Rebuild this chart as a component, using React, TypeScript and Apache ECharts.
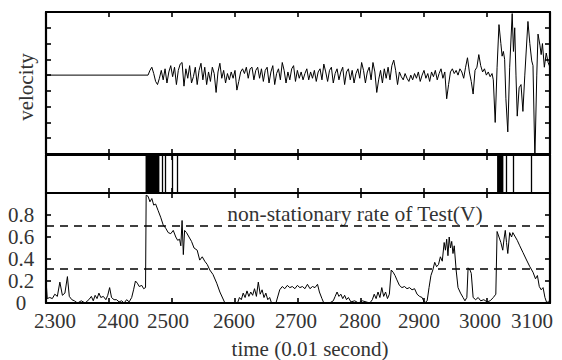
import React, { useEffect, useRef } from 'react';
import * as echarts from 'echarts';

// ---- data ----
const timeMin = 2300;
const timeMax = 3100;
const timeInterval = 100;

// velocity: quiet part, noisy part (regularly sampled), burst part
const velFlat: number[][] = [[2300, 0], [2462, 0]];
const velStart = 2462;
const velStep = 3;
const velValues: number[] = [
  0, 0.3, 0.5, 0.1, -0.4, -0.6, -0.2, 0.3, -0.3, 0.4, -0.5, 0.2, 0.6, -0.1, 0.5, -0.6, 0.3, 0.7, 0.8, -0.7,
  0.4, -0.2, 0.6, -0.5, -0.1, 0.5, -0.6, 0.3,
  0.75, -0.3, 0.5, -0.6, 0.2, -0.4, 0.5, 0.1, -1.1, 0.2, 0.75, -0.2, 0.3, -0.5, 0.1, -0.3, 0.2, -0.2, 0.3, -0.95,
  -0.4, 0.2,
  0.4, 0.1, 0.5, -0.2, 0.4, 0.5, -0.3, 0.3, 0.5, -0.2, 0.4, -0.4, 0.3, 0.5, -0.5, 0.2, 0.6, -0.6, 0.1, 0.4,
  -0.3, 0.8, 0.3, -0.5, 0.2, -0.3, 0.4, 0.6, -0.4, 0.3, -0.2, 0.2, -0.3, 0.1, 0.4, -0.3, 0.2,
  -0.2, 0.3, -0.4, 0.2, 0.4, -0.3, 0.7, 0.2, -0.4, 0.3, 0.5, -0.5, 0.1, 0.4, -0.3, 0.2, 0.5, -0.6, 0.2, 0.4,
  -0.3, 0.3, -0.5, 0.1, 0.4, -0.2, 0.8, 0.3, -0.5, 0.2, 0.5, -0.3, 0.8, 0.2, -1.1, -0.3,
  0.3, -0.5, 0.4, -0.2, 0.5, -0.3, 0.6, 0.95, 0.3, -0.6, 0.2, -0.1, -0.3, 0.1, -0.2, -0.4, 0.0, -0.3, 0.1, -0.2,
  0.2, -0.4, 0.0, 0.3, -0.2, 0.1, -0.4, 0.2, -0.1, 0.3, -0.3, 0.1, 0.4, -0.2, 0.2, -1.5,
  -0.6, 0.2, 0.4, 0.1, 0.3, 0.0, 0.4, 0.2, -0.2, 0.5, 1.1, 0.2, -0.4, -1.2, 0.3, 0.5, 1.3, 0.6, 0.2, 0.4,
  0.0, 0.2, -0.1, 0.1,
];
const velBurst: number[][] = [
  [3010, -0.3], [3013, -3.0], [3016, 0.5], [3019, 3.2], [3022, 2.0], [3024, 1.2], [3026, 1.5], [3028, 1.0],
  [3030, -1.5], [3033, -3.6], [3036, 0.5], [3040, 3.9], [3042, 1.5], [3044, 3.0], [3046, 0.0], [3048, -2.6],
  [3051, -0.8], [3054, -0.6], [3057, -2.3], [3060, 0.0], [3065, 3.4], [3068, 2.0], [3071, 0.9], [3073, 0.6],
  [3076, -5.3], [3079, 0.0], [3081, 2.6], [3084, 1.9], [3086, 1.3], [3088, 2.0], [3091, 0.5], [3094, 1.4],
  [3097, 0.8], [3100, 0.5],
];

// detected change events (middle strip)
const eventBlocks: number[][] = [[2458, 2480], [3016, 3026]];
const eventLines: number[] = [2485, 2489, 2500, 2508, 3031, 3042, 3071];

// non-stationary rate
const rateData: number[][] = [
  [2300, 0.21], [2302, 0.04], [2306, 0.05], [2310, 0.04], [2314, 0.08], [2318, 0.06], [2322, 0.19], [2326, 0.07],
  [2330, 0.09], [2334, 0.24], [2337, 0.06], [2341, 0.03], [2345, 0.02], [2350, 0.0], [2356, 0.02], [2362, 0.0],
  [2368, 0.03], [2372, 0.06], [2375, 0.02], [2378, 0.07], [2381, 0.04], [2384, 0.09], [2387, 0.05], [2391, 0.06],
  [2395, 0.03], [2398, 0.07], [2401, 0.14], [2404, 0.05], [2408, 0.03], [2412, 0.03], [2416, 0.01], [2420, 0.02],
  [2424, 0.0], [2428, 0.03], [2432, 0.01], [2436, 0.05], [2439, 0.12], [2442, 0.2], [2445, 0.18], [2448, 0.15],
  [2452, 0.16], [2455, 0.13], [2458, 0.14], [2459, 0.98], [2462, 0.97], [2465, 0.92], [2468, 0.95], [2471, 0.89],
  [2474, 0.9], [2478, 0.84], [2482, 0.78], [2486, 0.71], [2490, 0.68], [2494, 0.64], [2498, 0.63], [2502, 0.66],
  [2506, 0.6], [2509, 0.57], [2512, 0.58], [2514, 0.52], [2516, 0.75], [2518, 0.44], [2520, 0.66], [2523, 0.64],
  [2527, 0.6], [2531, 0.56], [2535, 0.5], [2540, 0.48], [2544, 0.39], [2548, 0.42], [2552, 0.38], [2556, 0.35],
  [2560, 0.3], [2565, 0.26], [2571, 0.18], [2576, 0.1], [2584, 0.0], [2604, 0.0], [2607, 0.05], [2610, 0.03],
  [2613, 0.09], [2616, 0.05], [2619, 0.11], [2622, 0.06], [2625, 0.1], [2628, 0.07], [2631, 0.13], [2634, 0.06],
  [2637, 0.19], [2640, 0.08], [2643, 0.12], [2646, 0.05], [2649, 0.09], [2652, 0.03], [2655, 0.05], [2658, 0.0],
  [2665, 0.0], [2671, 0.12], [2675, 0.15], [2679, 0.13], [2683, 0.16], [2687, 0.14], [2691, 0.15], [2695, 0.13],
  [2699, 0.16], [2703, 0.14], [2707, 0.15], [2711, 0.13], [2715, 0.17], [2719, 0.13], [2723, 0.15], [2727, 0.14],
  [2731, 0.17], [2734, 0.1], [2738, 0.04], [2741, 0.0], [2750, 0.0], [2756, 0.02], [2759, 0.06], [2762, 0.1],
  [2765, 0.06], [2768, 0.08], [2771, 0.04], [2774, 0.07], [2777, 0.03], [2780, 0.05], [2784, 0.01], [2790, 0.02],
  [2796, 0.0], [2802, 0.02], [2808, 0.01], [2814, 0.0], [2818, 0.03], [2821, 0.08], [2824, 0.04], [2827, 0.1],
  [2830, 0.05], [2833, 0.14], [2836, 0.06], [2839, 0.1], [2842, 0.04], [2845, 0.08], [2848, 0.3], [2851, 0.28],
  [2854, 0.25], [2857, 0.21], [2861, 0.16], [2865, 0.14], [2869, 0.15], [2873, 0.13], [2877, 0.14], [2881, 0.12],
  [2885, 0.13], [2889, 0.08], [2893, 0.06], [2897, 0.05], [2901, 0.0], [2905, 0.02], [2908, 0.14], [2911, 0.25],
  [2914, 0.3], [2917, 0.37], [2920, 0.33], [2923, 0.35], [2926, 0.42], [2929, 0.38], [2932, 0.55], [2934, 0.48],
  [2936, 0.58], [2938, 0.43], [2940, 0.6], [2942, 0.5], [2944, 0.56], [2946, 0.45], [2948, 0.52], [2951, 0.3],
  [2954, 0.14], [2958, 0.09], [2962, 0.05], [2965, 0.02], [2968, 0.05], [2970, 0.32], [2973, 0.3], [2975, 0.27],
  [2978, 0.05], [2982, 0.03], [2986, 0.05], [2990, 0.02], [2995, 0.03], [3000, 0.01], [3005, 0.02], [3010, 0.05],
  [3014, 0.08], [3016, 0.65], [3019, 0.6], [3022, 0.55], [3025, 0.48], [3027, 0.58], [3029, 0.66], [3031, 0.55],
  [3033, 0.45], [3036, 0.64], [3039, 0.6], [3041, 0.64], [3045, 0.6], [3048, 0.57], [3052, 0.52], [3057, 0.46],
  [3062, 0.4], [3068, 0.33], [3073, 0.28], [3077, 0.22], [3080, 0.25], [3083, 0.15], [3086, 0.12], [3089, 0.14],
  [3092, 0.05], [3095, 0.0], [3098, 0.02],
];
const thresholds: number[] = [0.7, 0.31];

const xTitle = 'time (0.01 second)';
const yTitleTop = 'velocity';
const rateTitle = 'non-stationary rate of Test(V)';

const FONT = "'Liberation Serif', 'DejaVu Serif', 'Times New Roman', serif";
const TXT = '#333';

// horizontal nudges of the time tick labels, as in the original figure (px, + = right)
const labelNudge: Record<number, number> = {
  2300: 9, 2400: 9, 2500: -4, 2600: -1, 2700: -2, 2800: -1, 2900: -5, 3000: -7, 3100: -18,
};

export default function App() {
  const ref = useRef<HTMLDivElement>(null);

  useEffect(() => {
    if (!ref.current) return;
    const chart = echarts.init(ref.current, undefined, { renderer: 'svg' });

    const velocity: number[][] = [
      ...velFlat,
      ...velValues.map((v, i) => [velStart + i * velStep, v]),
      ...velBurst,
    ];

    const axisLine = { show: true, onZero: false, lineStyle: { color: '#000', width: 2.2 } };
    const tick = { show: true, inside: true, length: 5, lineStyle: { color: '#000', width: 1.6 } };

    const labelFont = { fontFamily: FONT, fontSize: 21, color: TXT };
    const rich: Record<string, any> = {};
    Object.keys(labelNudge).forEach((k) => {
      const n = labelNudge[Number(k)];
      rich['t' + k] = {
        ...labelFont,
        padding: n >= 0 ? [0, 0, 0, 2 * n] : [0, -2 * n, 0, 0],
      };
    });

    const xAx = (gridIndex: number, position: string, showLabel: boolean) => ({
      type: 'value',
      gridIndex,
      position,
      min: timeMin,
      max: timeMax,
      interval: timeInterval,
      axisLine,
      axisTick: tick,
      splitLine: { show: false },
      axisLabel: showLabel
        ? {
            show: true,
            ...labelFont,
            margin: 7,
            formatter: (v: number) => `{t${Math.round(v)}|${Math.round(v)}}`,
            rich,
          }
        : { show: false },
    });

    const grids = [
      { left: 46, right: 12, top: 12, height: 142 },
      { left: 46, right: 12, top: 155, height: 38 },
      { left: 46, right: 12, top: 193, height: 110 },
    ];

    const option: any = {
      animation: false,
      backgroundColor: '#fff',
      grid: grids.map((g) => ({ ...g, containLabel: false })),
      xAxis: [
        xAx(0, 'bottom', false),
        xAx(0, 'top', false),
        xAx(1, 'bottom', false),
        xAx(1, 'top', false),
        xAx(2, 'bottom', true),
        xAx(2, 'top', false),
      ],
      yAxis: [
        {
          type: 'value', gridIndex: 0, position: 'left', min: -5, max: 4, interval: 1,
          axisLine, axisTick: tick, splitLine: { show: false }, axisLabel: { show: false },
        },
        {
          type: 'value', gridIndex: 0, position: 'right', min: -5, max: 4, interval: 1,
          axisLine, axisTick: tick, splitLine: { show: false }, axisLabel: { show: false },
        },
        {
          type: 'value', gridIndex: 1, position: 'left', min: 0, max: 1,
          axisLine, axisTick: { show: false }, splitLine: { show: false }, axisLabel: { show: false },
        },
        {
          type: 'value', gridIndex: 1, position: 'right', min: 0, max: 1,
          axisLine, axisTick: { show: false }, splitLine: { show: false }, axisLabel: { show: false },
        },
        {
          type: 'value', gridIndex: 2, position: 'left', min: 0, max: 1, interval: 0.2,
          axisLine, axisTick: tick, splitLine: { show: false },
          axisLabel: {
            show: true, ...labelFont, align: 'center', margin: 25,
            formatter: (v: number) => (v >= 0.99 ? '' : v === 0 ? '0' : v.toFixed(1)),
          },
        },
        {
          type: 'value', gridIndex: 2, position: 'right', min: 0, max: 1, interval: 0.2,
          axisLine, axisTick: tick, splitLine: { show: false }, axisLabel: { show: false },
        },
      ],
      series: [
        {
          type: 'line', xAxisIndex: 0, yAxisIndex: 0, data: velocity, showSymbol: false, symbol: 'none',
          lineStyle: { color: '#000', width: 1 }, clip: true, silent: true,
        },
        {
          type: 'line', xAxisIndex: 2, yAxisIndex: 2, data: [], showSymbol: false, symbol: 'none', silent: true,
          markArea: {
            silent: true,
            itemStyle: { color: '#000', opacity: 1 },
            label: { show: false },
            data: eventBlocks.map(([a, b]) => [{ xAxis: a }, { xAxis: b }]),
          },
          markLine: {
            silent: true, symbol: 'none', label: { show: false },
            lineStyle: { color: '#000', width: 1.3, type: 'solid' },
            data: eventLines.map((t) => ({ xAxis: t })),
          },
        },
        {
          type: 'line', xAxisIndex: 4, yAxisIndex: 4, data: rateData, showSymbol: false, symbol: 'none',
          lineStyle: { color: '#000', width: 1 }, clip: true, silent: true,
          markLine: {
            silent: true, symbol: 'none', label: { show: false },
            lineStyle: { color: '#000', width: 1.5, type: [8, 6] },
            data: thresholds.map((v) => ({ yAxis: v })),
          },
        },
      ],
      graphic: [
        {
          type: 'text', x: 26, y: 87, rotation: Math.PI / 2,
          style: { text: yTitleTop, font: `21px ${FONT}`, fill: TXT, align: 'center', verticalAlign: 'middle' },
        },
        {
          type: 'text', x: 310, y: 349,
          style: { text: xTitle, font: `21px ${FONT}`, fill: TXT, align: 'center', verticalAlign: 'middle' },
        },
        {
          type: 'text', x: 355, y: 214,
          style: { text: rateTitle, font: `21.5px ${FONT}`, fill: TXT, align: 'center', verticalAlign: 'middle' },
        },
      ],
    };

    chart.setOption(option);
    return () => chart.dispose();
  }, []);

  return (
    <div
      ref={ref}
      style={{ position: 'absolute', left: 0, top: 0, width: 562, height: 360, overflow: 'hidden' }}
    />
  );
}
